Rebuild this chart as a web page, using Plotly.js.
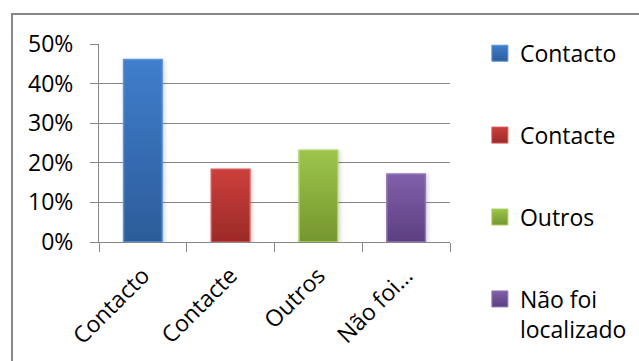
<!DOCTYPE html>
<html>
<head>
<meta charset="utf-8">
<script src="https://cdn.plot.ly/plotly-3.0.1.min.js"></script>
<style>
  html, body { margin: 0; padding: 0; background: #fff; }
  #chart { width: 639px; height: 361px; }
</style>
</head>
<body>
<div id="chart"></div>
<script>
// Share of responses per category
const categories = ['Contacto', 'Contacte', 'Outros', 'Não foi localizado'];
const tickLabels = ['Contacto', 'Contacte', 'Outros', 'Não foi…'];
const legendLabels = ['Contacto', 'Contacte', 'Outros', 'Não foi<br>localizado'];
const shares = [0.461, 0.184, 0.232, 0.172];

// Bar fills: top colour, bottom colour, outline
const fillTop = ['#3f7ecc', '#cc3f3b', '#9dc54b', '#8060ab'];
const fillBottom = ['#2c5c99', '#9b2a27', '#75962e', '#5c3f80'];
const outline = ['#5b92d6', '#d25a57', '#aacf62', '#9378b8'];

const FONT = '"Open Sans", "DejaVu Sans", sans-serif';
const GRID = '#878787';

const traces = categories.map((cat, i) => ({
  type: 'bar',
  x: [cat],
  y: [shares[i]],
  name: legendLabels[i],
  legendgroup: 'g' + i,
  width: 0.44,
  marker: { color: fillTop[i], line: { color: outline[i], width: 1.5 } },
  hoverinfo: 'skip'
}));

const layout = {
  width: 639,
  height: 361,
  margin: { l: 99, r: 189, t: 44, b: 119, pad: 0 },
  paper_bgcolor: '#ffffff',
  plot_bgcolor: '#ffffff',
  barmode: 'overlay',
  font: { family: FONT, size: 23, color: '#000000' },
  showlegend: true,
  legend: {
    xref: 'container', yref: 'container',
    x: 0.751, y: 0.912, xanchor: 'left', yanchor: 'top',
    traceorder: 'grouped',
    tracegroupgap: 49,
    valign: 'top',
    maxheight: 340,
    font: { family: FONT, size: 23, color: '#000000' },
    bgcolor: 'rgba(0,0,0,0)'
  },
  xaxis: {
    type: 'category',
    categoryorder: 'array',
    categoryarray: categories,
    tickvals: categories,
    ticktext: tickLabels,
    tickangle: -45,
    showline: true, linecolor: GRID, linewidth: 1,
    ticks: 'outside', tickson: 'boundaries', ticklen: 9, tickcolor: GRID, tickwidth: 1,
    ticklabelstandoff: 10,
    showgrid: false,
    tickfont: { family: FONT, size: 23, color: '#000000' },
    fixedrange: true
  },
  yaxis: {
    range: [0, 0.5],
    dtick: 0.1,
    tick0: 0,
    tickformat: '.0%',
    showline: true, linecolor: GRID, linewidth: 1,
    ticks: 'outside', ticklen: 8, tickcolor: GRID, tickwidth: 1,
    ticklabelstandoff: 12,
    showgrid: true, gridcolor: GRID, gridwidth: 1,
    zeroline: false,
    tickfont: { family: FONT, size: 23, color: '#000000' },
    fixedrange: true
  },
  shapes: [{
    type: 'rect', xref: 'paper', yref: 'paper',
    x0: -0.2479, x1: 2, y0: -1, y1: 1.1515,
    line: { color: GRID, width: 2 },
    fillcolor: 'rgba(0,0,0,0)',
    layer: 'below'
  }]
};

// Vertical gradients and a soft shadow on the bars and legend swatches
function applyGradients(gd) {
  const svg = gd.querySelector('svg.main-svg');
  const ns = 'http://www.w3.org/2000/svg';
  let defs = svg.querySelector('defs');
  if (!defs) { defs = document.createElementNS(ns, 'defs'); svg.insertBefore(defs, svg.firstChild); }
  fillTop.forEach((top, i) => {
    const g = document.createElementNS(ns, 'linearGradient');
    g.setAttribute('id', 'barfill' + i);
    g.setAttribute('x1', '0'); g.setAttribute('y1', '0');
    g.setAttribute('x2', '0'); g.setAttribute('y2', '1');
    [[0, top], [1, fillBottom[i]]].forEach(([off, col]) => {
      const s = document.createElementNS(ns, 'stop');
      s.setAttribute('offset', off);
      s.setAttribute('stop-color', col);
      g.appendChild(s);
    });
    defs.appendChild(g);
  });
  const f = document.createElementNS(ns, 'filter');
  f.setAttribute('id', 'barshadow');
  f.setAttribute('x', '-30%'); f.setAttribute('y', '-10%');
  f.setAttribute('width', '160%'); f.setAttribute('height', '130%');
  const ds = document.createElementNS(ns, 'feDropShadow');
  ds.setAttribute('dx', '1.5'); ds.setAttribute('dy', '1.5');
  ds.setAttribute('stdDeviation', '2');
  ds.setAttribute('flood-color', '#000');
  ds.setAttribute('flood-opacity', '0.18');
  f.appendChild(ds);
  defs.appendChild(f);

  gd.querySelectorAll('.barlayer .trace').forEach((tr, i) => {
    tr.querySelectorAll('path').forEach(p => {
      p.style.fill = 'url(#barfill' + i + ')';
      p.setAttribute('filter', 'url(#barshadow)');
    });
  });
  gd.querySelectorAll('.legend .traces').forEach((tr, i) => {
    tr.querySelectorAll('.legendpoints path').forEach(p => {
      p.setAttribute('d', 'M8,8H-8V-8H8Z');
      p.style.fill = 'url(#barfill' + i + ')';
      p.style.strokeWidth = '1px';
    });
  });
}

Plotly.newPlot('chart', traces, layout, { staticPlot: true, displayModeBar: false })
  .then(applyGradients);
</script>
</body>
</html>
